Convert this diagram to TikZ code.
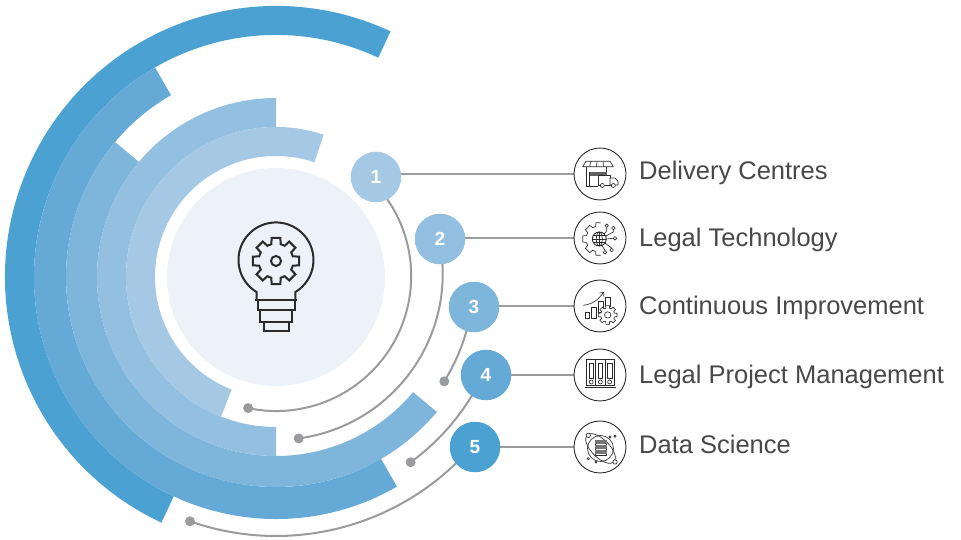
\documentclass[tikz,border=0pt]{standalone}
\usepackage{fontspec}
\setmainfont{Liberation Sans}
\usetikzlibrary{backgrounds}
\definecolor{rA}{HTML}{A5C9E4}
\definecolor{rB}{HTML}{93BFE0}
\definecolor{rC}{HTML}{7DB5DB}
\definecolor{rD}{HTML}{65AAD6}
\definecolor{rE}{HTML}{4BA1D1}
\definecolor{core}{HTML}{EDF2F9}
\definecolor{wire}{HTML}{9A9B9D}
\definecolor{ink}{HTML}{2B2A2B}
\definecolor{txt}{HTML}{48484A}
\newcommand{\ringseg}[5]{\fill[#1] (#4:#2pt) arc[start angle=#4,end angle=#5,radius=#2pt] -- (#5:#3pt) arc[start angle=#5,end angle=#4,radius=#3pt] -- cycle;}
% cx cy rOuter rInner step : a toothed outline
\newcommand{\cogpath}[5]{%
 ({#1+#3*cos(-0.24*#5)},{#2+#3*sin(-0.24*#5)})
 \foreach \ang in {0,#5,...,359}{
   -- ({#1+#3*cos(\ang-0.24*#5)},{#2+#3*sin(\ang-0.24*#5)})
   -- ({#1+#3*cos(\ang+0.24*#5)},{#2+#3*sin(\ang+0.24*#5)})
   -- ({#1+#4*cos(\ang+0.34*#5)},{#2+#4*sin(\ang+0.34*#5)})
   -- ({#1+#4*cos(\ang+0.66*#5)},{#2+#4*sin(\ang+0.66*#5)})
 } -- cycle}
\tikzset{
  badge/.style={circle,minimum size=50.5pt,inner sep=0pt,text=white,font=\fontsize{19}{19}\selectfont\bfseries},
  iconring/.style={circle,draw=ink,line width=0.9pt,minimum size=52pt,inner sep=0pt,fill=white},
  leader/.style={wire,line width=2pt},
  tip/.style={circle,fill=wire,minimum size=10pt,inner sep=0pt},
  caption/.style={anchor=west,text=txt,inner sep=0pt,font=\fontsize{25.5}{27}\selectfont},
  fine/.style={draw=ink,line width=0.65pt,line join=round},
  bulb/.style={draw=ink,line width=2pt,line join=miter},
  glyph/.style={x=1pt,y=-1pt}
}
\begin{document}
\begin{tikzpicture}[x=1pt,y=1pt]
\useasboundingbox (0,0) rectangle (961,540);
% rings
\begin{scope}[shift={(276,263)}]
\ringseg{rE}{271}{242}{65}{245}
\ringseg{rD}{242}{210}{120}{300}
\ringseg{rC}{210}{179}{140}{320}
\ringseg{rB}{179}{150}{90}{270}
\ringseg{rA}{150}{121}{71.5}{248.5}
\fill[core] (0,0) circle[radius=109pt];
\coordinate (d1) at (258:134);
\coordinate (d2) at (-82:163);
\coordinate (d3) at (-31.8:198);
\coordinate (d4) at (-54:229);
\coordinate (d5) at (250.6:259);
\end{scope}
% badges
\node[badge,fill=rA] (n1) at (376,363) {1};
\node[badge,fill=rB] (n2) at (440,301) {2};
\node[badge,fill=rC] (n3) at (474,233) {3};
\node[badge,fill=rD] (n4) at (486,165) {4};
\node[badge,fill=rE] (n5) at (475,93) {5};
% icon rings
\node[iconring] (i1) at (600,366) {};
\node[iconring] (i2) at (600,302) {};
\node[iconring] (i3) at (600,234) {};
\node[iconring] (i4) at (600,165) {};
\node[iconring] (i5) at (600,93) {};
% tips
\node[tip] (t1) at (d1) {};
\node[tip] (t2) at (d2) {};
\node[tip] (t3) at (d3) {};
\node[tip] (t4) at (d4) {};
\node[tip] (t5) at (d5) {};
\begin{pgfonlayer}{background}
\draw[leader] (n1 |- i1.west) -- (i1.west);
\draw[leader] (n2 |- i2.west) -- (i2.west);
\draw[leader] (n3 |- i3.west) -- (i3.west);
\draw[leader] (n4 |- i4.west) -- (i4.west);
\draw[leader] (n5 |- i5.west) -- (i5.west);
\draw[leader] (t1.center) arc[start angle=258,end angle=400,radius=135pt];
\draw[leader] (t2.center) arc[start angle=-82.4,end angle=13,radius=166pt];
\draw[leader] (t3.center) arc[start angle=-31.8,end angle=-9,radius=198pt];
\draw[leader] (t4.center) arc[start angle=-54,end angle=-25,radius=229pt];
\draw[leader] (t5.center) arc[start angle=250.6,end angle=320,radius=259pt];
\end{pgfonlayer}
% captions
\node[caption] (c1) at (639,367) {Delivery Centres};
\node[caption] (c2) at (639,300) {Legal Technology};
\node[caption] (c3) at (639,232) {Continuous Improvement};
\node[caption] (c4) at (639,163) {Legal Project Management};
\node[caption] (c5) at (639,96) {Data Science};
% bulb
\draw[bulb] (256.5,240) -- (256.5,248) arc[start angle=238.7,end angle=-58.7,radius=37.5pt] -- (295.5,240);
\draw[draw=ink,line width=2.6pt] (255,240) -- (297,240);
\draw[bulb] (257.5,240) rectangle (294.5,230);
\draw[bulb] (260,230) rectangle (292,218);
\draw[bulb] (263.5,218) rectangle (288.5,208.5);
\draw[bulb] \cogpath{276}{279}{23.5}{17.5}{45};
\draw[bulb] (276,279) circle[radius=5pt];
% icon 1: store and truck
\begin{scope}[shift={(i1.center)},glyph,fine]
\draw (-14,-12.7) -- (10,-12.7) -- (13.3,-7.3) -- (-17.3,-7.3) -- cycle;
\draw (-9,-12.7) -- (-10.5,-7.3) (-3,-12.7) -- (-3.5,-7.3) (3,-12.7) -- (3.5,-7.3);
\draw (-13.3,-7.3) -- (-13.3,12) -- (-1.7,12);
\draw (6.7,-7.3) -- (6.7,1.7);
\fill[ink!75] (-10.7,-2) rectangle (6.7,1.7);
\draw (-10.7,-2) -- (-10.7,12);
\draw[fill=white] (-1.7,1.7) rectangle (10,11);
\draw[fill=white] (10,4) -- (15,4) -- (18,7.5) -- (18,11) -- (10,11) -- cycle;
\draw[fill=white] (2.3,11.5) circle[radius=2pt];
\draw[fill=white] (13.3,11.5) circle[radius=2pt];
\end{scope}
% icon 2: half gear, globe, circuit
\begin{scope}[shift={(i2.center)},glyph,fine]
\begin{scope}
\clip (-20,-20) rectangle (0.5,20);
\draw \cogpath{-1}{1}{16.5}{13}{45};
\end{scope}
\draw[line width=0.9pt] (-0.7,1) circle[radius=7pt];
\draw (-0.7,1) circle[x radius=3pt,y radius=7pt];
\draw (-7.7,1) -- (6.3,1) (-6.7,-2.5) -- (5.3,-2.5) (-6.7,4.5) -- (5.3,4.5) (-0.7,-6) -- (-0.7,8);
\draw (4,-4) -- (6.7,-7) -- (6.7,-10.5);
\draw (6,-2) -- (13.3,-6) -- (13.3,-8.2);
\draw (6.3,1) -- (13.2,0.3);
\draw (5,5) -- (11.7,10.2);
\draw (2,7.5) -- (5,12.5);
\foreach \p in {(6.7,-12.3),(13.3,-10),(15,0.3),(11.7,12),(5,14.3)} \draw \p circle[radius=1.8pt];
\end{scope}
% icon 3: bars, gear, rising arrow
\begin{scope}[shift={(i3.center)},glyph,fine]
\draw (-15,6.7) rectangle (-10.7,12.7);
\draw (-8.3,1.7) rectangle (-4,12.7);
\draw (-1.7,-4.3) rectangle (3.3,6.7);
\draw (5,-9) rectangle (10,0);
\draw (-16.7,-0.7) .. controls (-7,-2) and (-2,-6) .. (3.3,-13.3);
\draw (-0.5,-13) -- (3.6,-13.6) -- (3.8,-9.5);
\draw[fill=white] \cogpath{7.7}{9}{9.5}{7}{45};
\draw (7.7,9) circle[radius=3.2pt];
\end{scope}
% icon 4: three binders on a shelf
\begin{scope}[shift={(i4.center)},glyph,fine]
\foreach \bx/\bw in {-13.3/9,-4.3/9.3,5/9.3}{
  \draw (\bx,-16) rectangle ++(\bw,26.7);
  \draw (\bx+2.3,-11.7) rectangle ++(\bw-4.6,14.7);
  \draw (\bx+\bw/2,7) circle[radius=2pt];
}
\draw[line width=1pt] (-15,13) -- (16,13);
\end{scope}
% icon 5: server with orbits
\begin{scope}[shift={(i5.center)},glyph,fine]
\draw (0.5,1.5) circle[radius=13pt];
\draw (0.5,1.5) circle[x radius=19pt,y radius=9pt,rotate=-45];
\draw[fill=white] (-5,-6.7) rectangle (6.7,8.3);
\foreach \sy in {-6.7,-1.7,3.3}{
  \fill[ink!65] (-5,\sy) rectangle (6.7,\sy+3.4);
}
\foreach \q/\qr in {(-11.7,-11.7)/2.2,(15,15)/2.2,(10,-10)/1.1,(-11.7,11.7)/1.1,(15,-10.7)/1.1,(-4,15)/1.1}
  \draw[fill=white] \q circle[radius=\qr pt];
\end{scope}
\end{tikzpicture}
\end{document}
